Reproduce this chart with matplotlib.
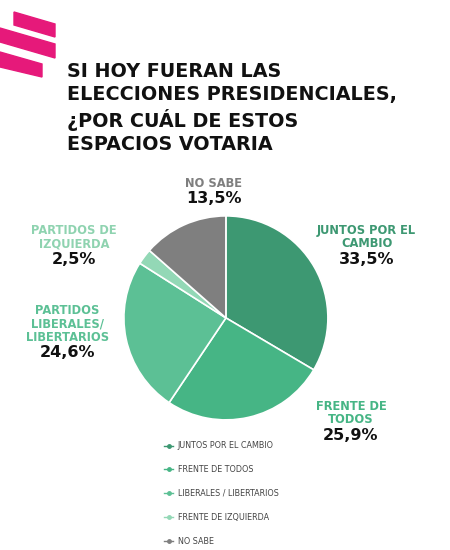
import matplotlib
matplotlib.use("Agg")
import matplotlib.pyplot as plt
from matplotlib.patches import Polygon

labels = ["JUNTOS POR EL\nCAMBIO", "FRENTE DE\nTODOS", "PARTIDOS\nLIBERALES/\nLIBERTARIOS", "PARTIDOS DE\nIZQUIERDA", "NO SABE"]
values = [33.5, 25.9, 24.6, 2.5, 13.5]
value_text = ["33,5%", "25,9%", "24,6%", "2,5%", "13,5%"]
legend_labels = ["JUNTOS POR EL CAMBIO", "FRENTE DE TODOS", "LIBERALES / LIBERTARIOS", "FRENTE DE IZQUIERDA", "NO SABE"]
colors = ["#3d9872", "#46b585", "#5cc095", "#93d8b6", "#7f7f7f"]
label_colors = ["#3d9872", "#46b585", "#5cc095", "#8fd3b0", "#7f7f7f"]

fig = plt.figure(figsize=(4.5, 5.5), dpi=100)
fig.patch.set_facecolor("white")

def P(pts):
    return [[x / 450, 1 - y / 550] for x, y in pts]
for poly in [[(14, 12), (55, 24), (55, 37), (14, 25)],
             [(0, 28), (55, 44), (55, 58), (0, 42)],
             [(0, 52), (42, 64), (42, 77), (0, 67)]]:
    fig.patches.append(Polygon(P(poly), closed=True, transform=fig.transFigure, color="#e6197a"))

fig.text(0.148, 0.888, "SI HOY FUERAN LAS\nELECCIONES PRESIDENCIALES,\n¿POR CUÁL DE ESTOS\nESPACIOS VOTARIA",
         ha="left", va="top", fontsize=13.8, fontweight="bold", color="#111111",
         family="DejaVu Sans", linespacing=1.28)

ax = fig.add_axes([0.502-0.229, 0.422-0.1873, 0.458, 0.3746])
ax.pie(values, colors=colors, startangle=90, counterclock=False, radius=1,
       wedgeprops=dict(edgecolor="white", linewidth=1.2))
ax.set_xlim(-1.01, 1.01)
ax.set_ylim(-1.01, 1.01)
ax.set_aspect("equal")

pos = [(0.815, 0.545), (0.78, 0.225), (0.15, 0.375), (0.165, 0.545), (0.475, 0.655)]
for (x, y), lab, vt, c in zip(pos, labels, value_text, label_colors):
    fig.text(x, y, lab, ha="center", va="bottom", fontsize=8.3, fontweight="bold", color=c,
             family="DejaVu Sans", linespacing=1.05)
    fig.text(x, y - 0.003, vt, ha="center", va="top", fontsize=11.5, fontweight="bold",
             color="#111111", family="DejaVu Sans")

for i, (lab, c) in enumerate(zip(legend_labels, colors)):
    y = 0.19 - i * 0.0435
    fig.lines.append(plt.Line2D([0.365, 0.385], [y, y], transform=fig.transFigure, color=c, lw=1))
    fig.lines.append(plt.Line2D([0.375], [y], transform=fig.transFigure, color=c, marker="o", ms=2.5))
    fig.text(0.395, y, lab, ha="left", va="center", fontsize=5.8, color="#444444", family="DejaVu Sans")

fig.savefig("out.png", dpi=100, facecolor="white")
